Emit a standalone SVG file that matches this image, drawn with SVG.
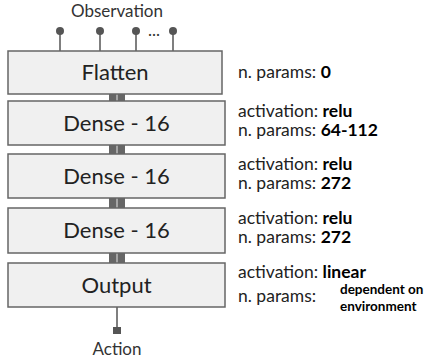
<svg xmlns="http://www.w3.org/2000/svg" width="437" height="360" viewBox="0 0 437 360">
<style>
.box{fill:#f0f0f0;stroke:#666;stroke-width:1.5}
.t{font-family:Lato,"Open Sans",sans-serif;font-size:22px;fill:#222;text-anchor:middle}
.s{font-family:Lato,"Open Sans",sans-serif;font-size:17px;fill:#333;text-anchor:middle}
.l{font-family:Lato,"Open Sans",sans-serif;font-size:17.5px;fill:#222}
.b{font-weight:bold;fill:#000}
.v{font-family:Lato,"Open Sans",sans-serif;font-size:13.5px;font-weight:bold;fill:#000}
.pin{stroke:#555;stroke-width:1.5}
.dot{fill:#555}
.bar{fill:#666}
.gap{stroke:#bbb;stroke-width:1.5}
</style>
<g id="connectors">
<line class="pin" x1="60" y1="31" x2="60" y2="51"/><circle class="dot" cx="60" cy="31" r="4"/>
<line class="pin" x1="100" y1="31" x2="100" y2="51"/><circle class="dot" cx="100" cy="31" r="4"/>
<line class="pin" x1="136" y1="31" x2="136" y2="51"/><circle class="dot" cx="136" cy="31" r="4"/>
<line class="pin" x1="173" y1="31" x2="173" y2="51"/><circle class="dot" cx="173" cy="31" r="4"/>
<text x="154" y="36" class="s">...</text>
<rect class="bar" x="109" y="94" width="16" height="8"/><line class="gap" x1="117" y1="94" x2="117" y2="102"/>
<rect class="bar" x="109" y="145" width="16" height="9"/><line class="gap" x1="117" y1="145" x2="117" y2="154"/>
<rect class="bar" x="109" y="198" width="16" height="10"/><line class="gap" x1="117" y1="198" x2="117" y2="208"/>
<rect class="bar" x="109" y="253" width="16" height="10"/><line class="gap" x1="117" y1="253" x2="117" y2="263"/>
<line class="pin" x1="117" y1="307" x2="117" y2="328"/><rect class="dot" x="113" y="327" width="8" height="7"/>
</g>
<text x="117" y="17" class="s">Observation</text>
<text x="117" y="355" class="s">Action</text>
<g id="flatten">
<rect class="box" x="8" y="51" width="214" height="43"/>
<text x="115" y="80" class="t">Flatten</text>
<text x="238" y="78" class="l">n. params: <tspan class="b">0</tspan></text>
</g>
<g id="dense1">
<rect class="box" x="8" y="101" width="217" height="44"/>
<text x="116.5" y="131" class="t">Dense - 16</text>
<text x="238" y="117" class="l">activation: <tspan class="b">relu</tspan></text>
<text x="238" y="136" class="l">n. params: <tspan class="b">64-112</tspan></text>
</g>
<g id="dense2">
<rect class="box" x="8" y="154" width="217" height="44"/>
<text x="116.5" y="184" class="t">Dense - 16</text>
<text x="238" y="170" class="l">activation: <tspan class="b">relu</tspan></text>
<text x="238" y="189" class="l">n. params: <tspan class="b">272</tspan></text>
</g>
<g id="dense3">
<rect class="box" x="8" y="208" width="217" height="45"/>
<text x="116.5" y="238" class="t">Dense - 16</text>
<text x="238" y="224" class="l">activation: <tspan class="b">relu</tspan></text>
<text x="238" y="243" class="l">n. params: <tspan class="b">272</tspan></text>
</g>
<g id="output">
<rect class="box" x="8" y="263" width="217" height="44"/>
<text x="116.5" y="293" class="t">Output</text>
<text x="238" y="278" class="l">activation: <tspan class="b">linear</tspan></text>
<text x="238" y="302" class="l">n. params:</text>
<text class="v"><tspan x="340" y="294">dependent on</tspan><tspan x="340" y="310.5">environment</tspan></text>
</g>
</svg>
